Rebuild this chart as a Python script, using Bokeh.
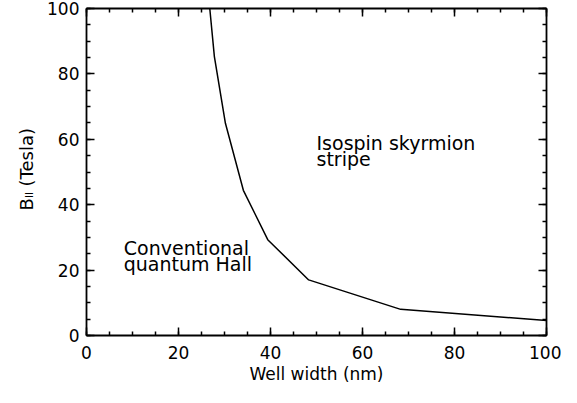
import math
from bokeh.plotting import figure
from bokeh.layouts import row
from bokeh.models import LinearAxis, Label, Range1d, SingleIntervalTicker, CustomJSTickFormatter
from bokeh.embed import file_html
from bokeh.resources import INLINE

# ---- data ----
well_width = [26.8, 27.8, 30.2, 34.1, 39.4, 48.3, 68.3, 100.0]
b_parallel = [100.0, 85.3, 64.9, 44.4, 29.3, 17.0, 8.0, 4.6]
x_label = "Well width (nm)"
y_label_main = "B"
y_label_sub = "II"
y_label_unit = "(Tesla)"
region_upper = ["Isospin skyrmion", "stripe"]
region_lower = ["Conventional", "quantum Hall"]
region_upper_pos = (50.0, [58.9, 53.9])
region_lower_pos = (8.1, [26.9, 21.9])

FONT = "DejaVu Sans"
TICK_FS = "17px"
H = 387
LEFT_W = 44

# ---- main plot ----
p = figure(width=561 - LEFT_W, height=H,
           x_range=Range1d(0, 100), y_range=Range1d(0, 100),
           output_backend="svg", toolbar_location=None,
           min_border_left=86 - LEFT_W, min_border_right=15,
           min_border_top=8, min_border_bottom=52)
p.outline_line_color = None
p.grid.visible = False
p.background_fill_color = "white"
p.border_fill_color = "white"

p.line(well_width, b_parallel, line_color="black", line_width=1.5)


def style_axis(ax, labels=True):
    ax.ticker = SingleIntervalTicker(interval=20, num_minor_ticks=4)
    ax.axis_line_color = "black"
    ax.axis_line_width = 1.8
    ax.major_tick_line_color = "black"
    ax.minor_tick_line_color = "black"
    ax.major_tick_line_width = 1.5
    ax.minor_tick_line_width = 1.5
    ax.major_tick_in = 8
    ax.major_tick_out = 0
    ax.minor_tick_in = 4
    ax.minor_tick_out = 0
    if labels:
        ax.major_label_text_font = FONT
        ax.major_label_text_font_size = TICK_FS
        ax.major_label_text_color = "black"
    else:
        ax.formatter = CustomJSTickFormatter(code="return ''")
        ax.major_label_standoff = 0
        ax.major_label_text_font_size = "0px"


xa = p.xaxis[0]
ya = p.yaxis[0]
style_axis(xa)
style_axis(ya)
xa.major_label_standoff = 10
xa.axis_label = x_label
xa.axis_label_text_font = FONT
xa.axis_label_text_font_size = "17px"
xa.axis_label_text_font_style = "normal"
xa.axis_label_text_color = "black"
xa.axis_label_standoff = 2
ya.major_label_standoff = 7

top = LinearAxis()
style_axis(top, labels=False)
p.add_layout(top, "above")
right = LinearAxis()
style_axis(right, labels=False)
p.add_layout(right, "right")

for lines, (lx, lys) in ((region_upper, region_upper_pos), (region_lower, region_lower_pos)):
    for t, ly in zip(lines, lys):
        p.add_layout(Label(x=lx, y=ly, text=t, text_align="left",
                           text_baseline="alphabetic", text_font=FONT,
                           text_font_size="19px", text_color="black"))

# ---- narrow strip holding the rotated y-axis title (B with subscript II) ----
lab = figure(width=LEFT_W, height=H, x_range=Range1d(0, 1), y_range=Range1d(0, 1),
             output_backend="svg", toolbar_location=None,
             x_axis_location=None, y_axis_location=None,
             min_border=0)
lab.outline_line_color = None
lab.grid.visible = False
lab.border_fill_color = "white"
lab.background_fill_color = "white"

ylab_x = 26
ylab_y = 125
lab.add_layout(Label(x=ylab_x, y=ylab_y, x_units="screen", y_units="screen",
                     text=y_label_main, angle=math.pi / 2, text_align="left",
                     text_baseline="alphabetic", text_font=FONT,
                     text_font_size="18px", text_color="black"))
lab.add_layout(Label(x=ylab_x + 3, y=ylab_y + 12.5, x_units="screen", y_units="screen",
                     text=y_label_sub, angle=math.pi / 2, text_align="left",
                     text_baseline="alphabetic", text_font=FONT,
                     text_font_size="10px", text_color="black"))
lab.add_layout(Label(x=ylab_x, y=ylab_y + 24, x_units="screen", y_units="screen",
                     text=y_label_unit, angle=math.pi / 2, text_align="left",
                     text_baseline="alphabetic", text_font=FONT,
                     text_font_size="18px", text_color="black"))

layout = row(lab, p, spacing=0)
open("out.html", "w").write(file_html(layout, INLINE))
